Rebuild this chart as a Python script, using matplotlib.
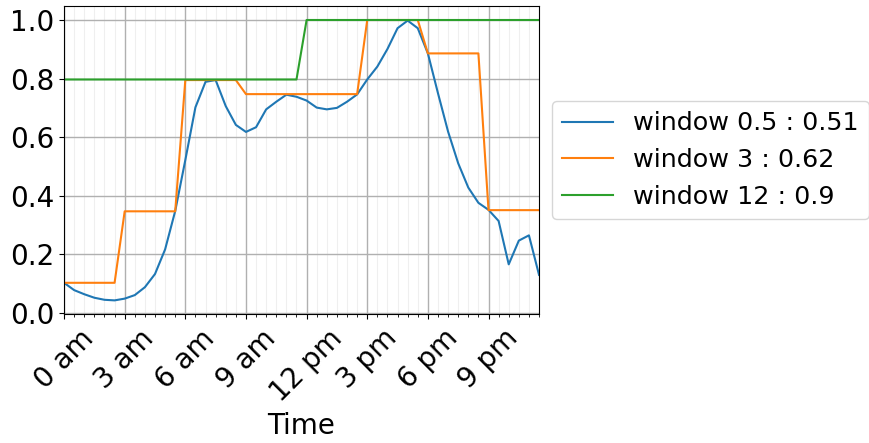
import numpy as np
import matplotlib
matplotlib.use("Agg")
import matplotlib.pyplot as plt
from matplotlib.ticker import MultipleLocator

hours = np.arange(0, 24, 0.5)

window_05 = [0.103, 0.078, 0.064, 0.052, 0.045, 0.043, 0.049, 0.061, 0.088, 0.133,
             0.217, 0.348, 0.522, 0.702, 0.789, 0.795, 0.706, 0.642, 0.618, 0.634,
             0.695, 0.721, 0.745, 0.738, 0.725, 0.701, 0.695, 0.700, 0.721, 0.746,
             0.797, 0.841, 0.901, 0.972, 0.998, 0.972, 0.886, 0.750, 0.619, 0.511,
             0.428, 0.376, 0.352, 0.314, 0.166, 0.247, 0.265, 0.130]

window_3 = ([0.103] * 6 + [0.347] * 6 + [0.795] * 6 + [0.747] * 12 +
            [1.0] * 6 + [0.886] * 6 + [0.351] * 6)

window_12 = [0.797] * 24 + [1.0] * 24

labels = ["window 0.5 : 0.51", "window 3 : 0.62", "window 12 : 0.9"]
tick_pos = [0, 3, 6, 9, 12, 15, 18, 21]
tick_labels = ["0 am", "3 am", "6 am", "9 am", "12 pm", "3 pm", "6 pm", "9 pm"]

fig = plt.figure(figsize=(8.69, 4.43), dpi=100)
ax = fig.add_axes([0.0737, 0.2903, 0.6203 - 0.0737, 0.9865 - 0.2903])

for series, lab in zip([window_05, window_3, window_12], labels):
    ax.plot(hours, series, label=lab, linewidth=1.5)

ax.set_xlim(0, 23.5)
ax.set_xticks(tick_pos)
ax.set_xticklabels(tick_labels, rotation=45, fontsize=20)
ax.xaxis.set_minor_locator(MultipleLocator(0.5))
ax.set_yticks([0.0, 0.2, 0.4, 0.6, 0.8, 1.0])
ax.tick_params(axis='y', labelsize=20)
ax.grid(True, which='major', color='#b0b0b0', linewidth=1.0)
ax.grid(True, which='minor', axis='x', color='#b0b0b0', linewidth=0.8, alpha=0.2)
ax.set_xlabel("Time", fontsize=20)

ax.legend(loc='center left', bbox_to_anchor=(1.027, 0.5), fontsize=18.3,
          borderaxespad=0.0)

fig.savefig("out.png", dpi=100)
